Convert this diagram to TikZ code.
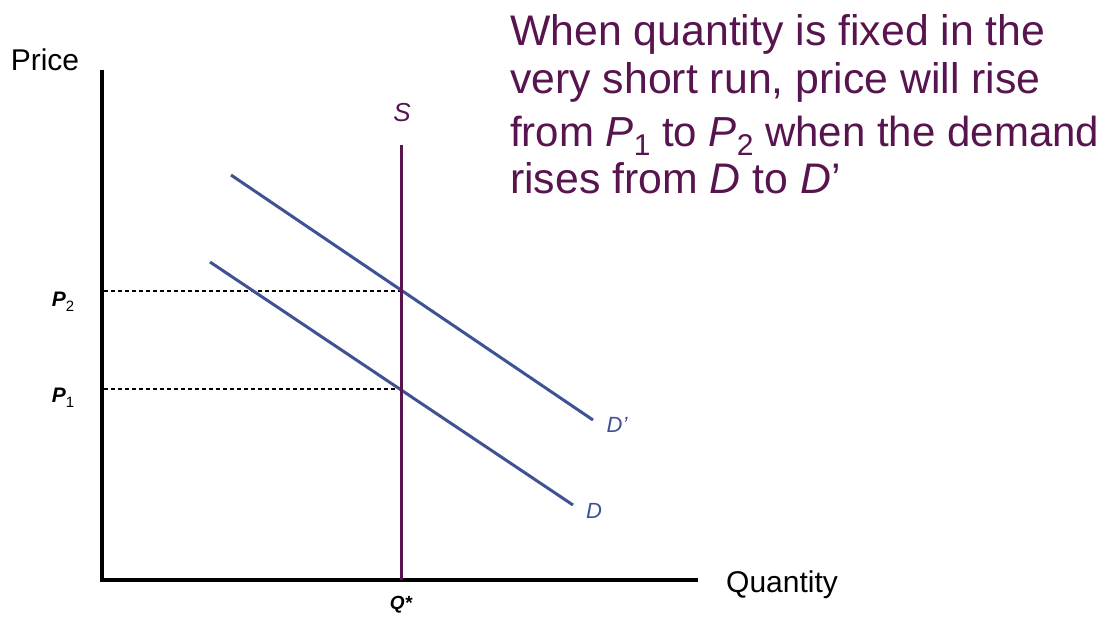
\documentclass[tikz,border=0pt]{standalone}
\usepackage{fontspec}
\setmainfont{Liberation Sans}
\definecolor{txtpurple}{RGB}{88,20,78}
\definecolor{curveblue}{RGB}{62,82,150}
\newcommand{\mysub}[2]{\raisebox{-#1}[0pt][0pt]{#2}}
\begin{document}
\begin{tikzpicture}[x=1pt,y=-1pt,
  axis/.style={line width=3.8pt,black},
  supply/.style={line width=3pt,txtpurple},
  demand/.style={line width=3pt,curveblue},
  guide/.style={line width=1.2pt,black,dash pattern=on 4pt off 3pt},
  para/.style={anchor=base west,inner sep=0pt,text=txtpurple,font=\fontsize{42.8}{48}\selectfont},
  axlabel/.style={inner sep=0pt,font=\fontsize{30}{34}\selectfont},
  plabel/.style={inner sep=0pt,font=\fontsize{21}{24}\selectfont\bfseries\itshape},
  dlabel/.style={inner sep=0pt,text=curveblue,font=\fontsize{22}{26}\selectfont\itshape}]
\useasboundingbox (0,0) rectangle (1109,617);
% axes
\coordinate (ytop) at (102,70);
\coordinate (origin) at (102,580);
\coordinate (xend) at (698,580);
\draw[axis] (ytop) -- (origin) -- (xend);
% supply
\coordinate (stop) at (401,145);
\coordinate (sbot) at (401,580);
% demand
\coordinate (d2a) at (231,175);
\coordinate (d2b) at (593,420);
\coordinate (d1a) at (210,262);
\coordinate (d1b) at (573,505);
% equilibria
\coordinate (e2) at (401,291);
\coordinate (e1) at (401,389);
\coordinate (p2y) at (104,291);
\coordinate (p1y) at (104,389);
\draw[guide] (p2y) -- (e2);
\draw[guide] (p1y) -- (e1);
\draw[demand] (d2a) -- (d2b);
\draw[demand] (d1a) -- (d1b);
\draw[supply] (stop) -- (sbot);
% labels
\node[axlabel] (price) at (45,60) {Price};
\node[axlabel,anchor=west] (qty) at (726,585) {Quantity};
\node[plabel] (p2) at (63,299) {P\mysub{5pt}{\fontsize{15}{15}\selectfont\normalfont 2}};
\node[plabel] (p1) at (63,395) {P\mysub{5pt}{\fontsize{15}{15}\selectfont\normalfont 1}};
\node[plabel,font=\fontsize{19}{22}\selectfont\bfseries\itshape] (qstar) at (401,605) {Q*};
\node[inner sep=0pt,text=txtpurple,font=\fontsize{26}{30}\selectfont\itshape] (slab) at (402,113) {S};
\node[dlabel] (dprime) at (617,425) {D'};
\node[dlabel] (dlab) at (594,511) {D};
% paragraph
\node[para] (l1) at (510,46) {When quantity is fixed in the};
\node[para] (l2) at (510,94) {very short run, price will rise};
\node[para,font=\fontsize{42}{48}\selectfont] (l3) at (510,147) {from \textit{P}\mysub{9pt}{\fontsize{30}{30}\selectfont 1} to \textit{P}\mysub{9pt}{\fontsize{30}{30}\selectfont 2} when the demand};
\node[para] (l4) at (510,194) {rises from \textit{D} to \textit{D}'};
\end{tikzpicture}
\end{document}
